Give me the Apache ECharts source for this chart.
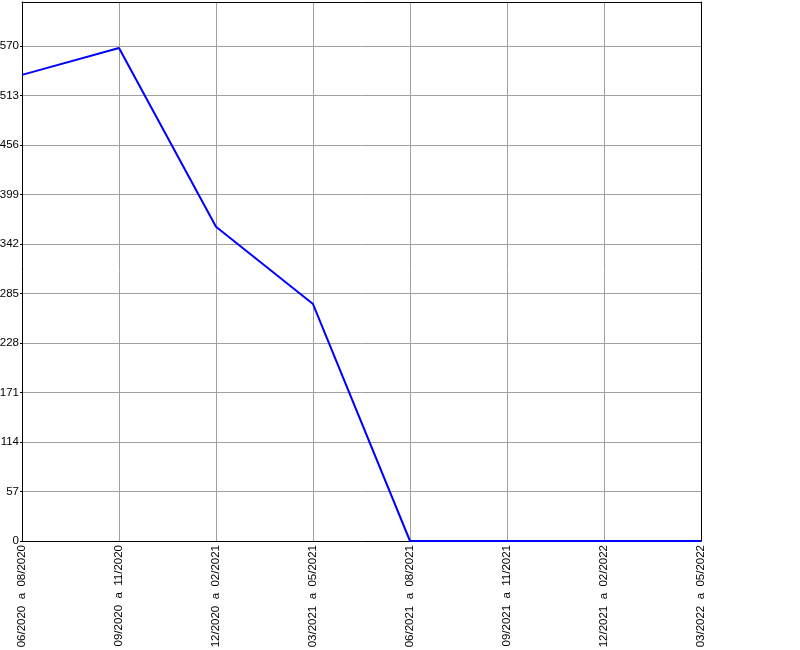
<!DOCTYPE html>
<html><head><meta charset="utf-8">
<script src="https://cdn.jsdelivr.net/npm/echarts@6/dist/echarts.min.js"></script>
<style>html,body{margin:0;padding:0;background:#fff}#c{width:800px;height:650px}</style>
</head><body><div id="c"></div>
<script>
const categories = ['06/2020  a  08/2020','09/2020  a  11/2020','12/2020  a  02/2021','03/2021  a  05/2021','06/2021  a  08/2021','09/2021  a  11/2021','12/2021  a  02/2022','03/2022  a  05/2022'];
const values = [537, 568, 362, 273, 0, 0, 0, 0];
const yMin = 0, yMax = 621, yInterval = 57;

const font = 'Liberation Sans, Arial, sans-serif';
const chart = echarts.init(document.getElementById('c'), null, {renderer:'canvas'});
chart.setOption({
  animation:false,
  backgroundColor:'#fff',
  grid:{left:22,right:99,top:2,bottom:109,show:false,containLabel:false,outerBoundsMode:'none'},
  xAxis:[{type:'category',data:categories,boundaryGap:false,
    axisLine:{show:true,lineStyle:{color:'#000',width:1}},
    axisTick:{show:false},
    splitLine:{show:true,lineStyle:{color:'#a0a0a0',width:1}},
    axisLabel:{rotate:90,interval:0,margin:4,color:'#000',fontFamily:font,fontSize:11.5}},
   {type:'category',data:categories,boundaryGap:false,position:'top',
    axisLine:{show:true,onZero:false,lineStyle:{color:'#000',width:1}},
    axisTick:{show:false},axisLabel:{show:false},splitLine:{show:false}}],
  yAxis:[{type:'value',min:yMin,max:yMax,interval:yInterval,
    axisLine:{show:true,lineStyle:{color:'#000',width:1}},
    axisTick:{show:true,length:2,lineStyle:{color:'#000'}},
    splitLine:{show:true,lineStyle:{color:'#a0a0a0',width:1}},
    axisLabel:{showMaxLabel:false,margin:3,color:'#000',fontFamily:font,fontSize:11.5}},
   {type:'value',min:yMin,max:yMax,interval:yInterval,position:'right',
    axisLine:{show:true,onZero:false,lineStyle:{color:'#000',width:1}},
    axisTick:{show:false},axisLabel:{show:false},splitLine:{show:false}}],
  series:[{type:'line',data:values,symbol:'none',lineStyle:{color:'#0000ff',width:2},z:5}]
});
</script></body></html>
